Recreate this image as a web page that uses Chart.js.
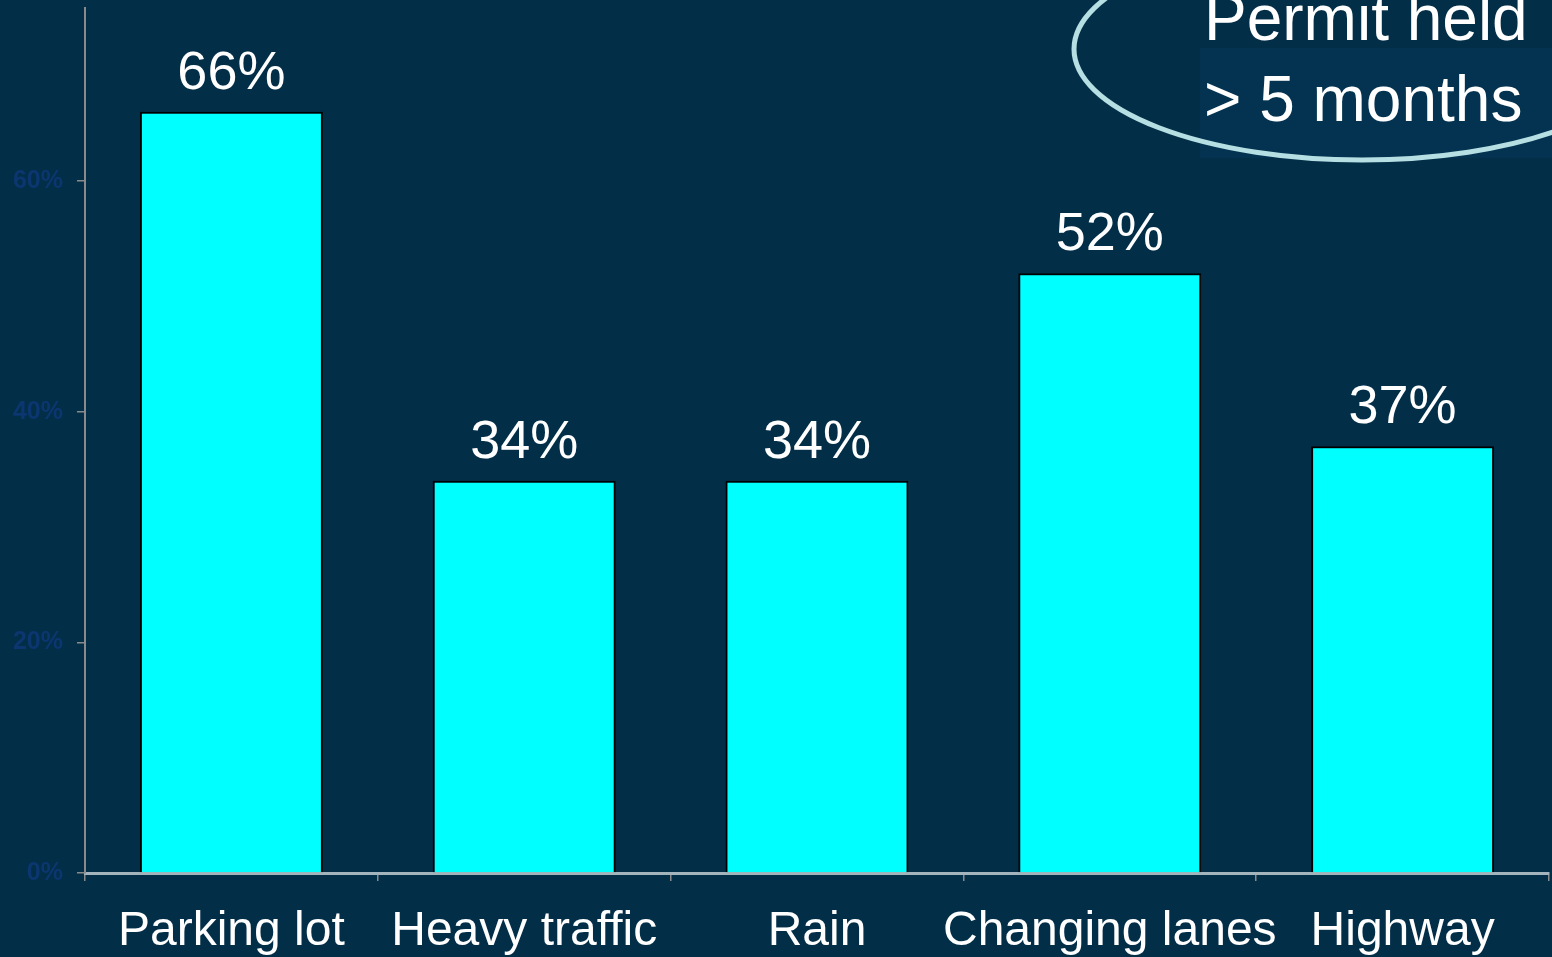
<!DOCTYPE html>
<html>
<head>
<meta charset="utf-8">
<script src="https://cdn.jsdelivr.net/npm/chart.js@4"></script>
<style>
  html, body { margin: 0; padding: 0; background: #032e48; overflow: hidden; }
  #wrap { width: 1552px; height: 957px; }
</style>
</head>
<body>
<div id="wrap"><canvas id="myChart" width="1552" height="957"></canvas></div>
<script>
const categories = ['Parking lot', 'Heavy traffic', 'Rain', 'Changing lanes', 'Highway'];
const percents = [66, 34, 34, 52, 37];
const yTicks = [0, 20, 40, 60];
const noteLines = ['Permit held', '> 5 months'];

const FONT = '"Liberation Sans", Arial, sans-serif';

// white % labels over each bar
const barLabels = {
    id: 'barLabels',
    afterDatasetsDraw(chart) {
        const ctx = chart.ctx;
        const meta = chart.getDatasetMeta(0);
        ctx.save();
        ctx.fillStyle = '#ffffff';
        ctx.font = '54px ' + FONT;
        ctx.textAlign = 'center';
        ctx.textBaseline = 'alphabetic';
        meta.data.forEach((bar, i) => {
            ctx.fillText(percents[i] + '%', bar.x, bar.y - 23);
        });
        ctx.restore();
    }
};

// the circled note in the top right corner
const note = {
    id: 'note',
    afterDraw(chart) {
        const ctx = chart.ctx;
        ctx.save();
        ctx.fillStyle = '#033350';
        ctx.fillRect(1200, 48, 352, 110);
        ctx.strokeStyle = '#b5dfe2';
        ctx.lineWidth = 5;
        ctx.beginPath();
        ctx.ellipse(1362, 49, 288, 111, 0, 0, Math.PI * 2);
        ctx.stroke();
        ctx.fillStyle = '#ffffff';
        ctx.font = '64px ' + FONT;
        ctx.textAlign = 'left';
        ctx.fillText(noteLines[0], 1204, 40);
        ctx.fillText(noteLines[1], 1204, 121);
        ctx.restore();
    }
};

const ctx = document.getElementById('myChart');

new Chart(ctx, {
    type: 'bar',
    data: {
        labels: categories,
        datasets: [{
            data: percents,
            backgroundColor: '#00ffff',
            borderColor: '#000000',
            borderWidth: 2,
            barPercentage: 0.625,
            categoryPercentage: 1.0
        }]
    },
    options: {
        responsive: false,
        animation: false,
        layout: { padding: { top: 8, right: 3, left: 0, bottom: 0 } },
        plugins: {
            legend: { display: false },
            tooltip: { enabled: false }
        },
        scales: {
            x: {
                grid: {
                    drawOnChartArea: false,
                    drawTicks: true,
                    tickLength: 8,
                    color: '#8a8a8a',
                    lineWidth: 1.5
                },
                border: { color: '#a3b4bc', width: 3 },
                ticks: {
                    color: '#ffffff',
                    padding: 22,
                    font: { family: FONT, size: 48 },
                    maxRotation: 0,
                    autoSkip: false
                },
                afterFit(scale) {
                    scale.height = 84;
                    scale.paddingLeft = 0;
                    scale.paddingRight = 0;
                }
            },
            y: {
                min: 0,
                max: 75,
                afterBuildTicks(scale) {
                    scale.ticks = yTicks.map(v => ({ value: v }));
                },
                grid: {
                    drawOnChartArea: false,
                    drawTicks: true,
                    tickLength: 8,
                    color: '#8a8a8a',
                    lineWidth: 1.5
                },
                border: { color: '#8a8a8a', width: 2 },
                ticks: {
                    color: '#0b3670',
                    padding: 14,
                    font: { family: FONT, size: 25, weight: 'bold' },
                    callback: v => v + '%'
                },
                afterFit(scale) {
                    scale.width = 85;
                    scale.paddingTop = 0;
                    scale.paddingBottom = 0;
                }
            }
        }
    },
    plugins: [barLabels, note]
});
</script>
</body>
</html>
